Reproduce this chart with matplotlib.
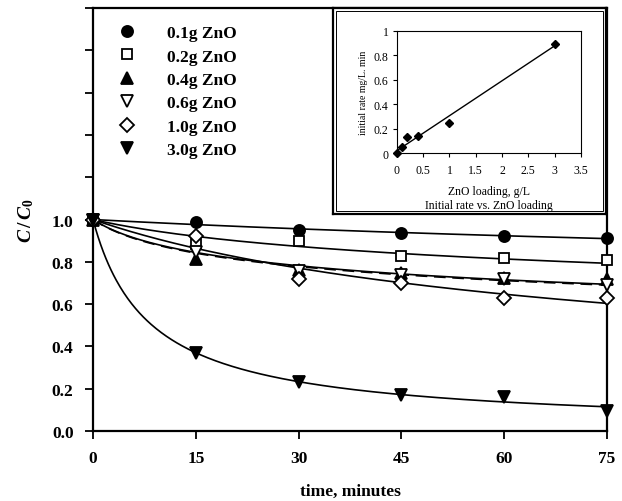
import matplotlib
matplotlib.use("Agg")
import matplotlib.pyplot as plt
import numpy as np
from matplotlib.lines import Line2D
from matplotlib.patches import Rectangle

plt.rcParams['font.family'] = ['Liberation Serif', 'DejaVu Serif']
plt.rcParams['mathtext.fontset'] = 'custom'
plt.rcParams['mathtext.it'] = 'Liberation Serif:italic:bold'
plt.rcParams['mathtext.rm'] = 'Liberation Serif:bold'

# main chart data: C/C0 vs time for each ZnO loading
time = [0, 15, 30, 45, 60, 75]
c_01 = [1.0, 0.986, 0.949, 0.938, 0.921, 0.913]
c_02 = [1.0, 0.885, 0.897, 0.828, 0.818, 0.807]
c_04 = [1.0, 0.815, 0.763, 0.749, 0.725, 0.717]
c_06 = [1.0, 0.848, 0.758, 0.740, 0.720, 0.692]
c_10 = [1.0, 0.923, 0.720, 0.700, 0.629, 0.629]
c_30 = [1.0, 0.370, 0.232, 0.172, 0.160, 0.096]
labels = ['0.1g ZnO', '0.2g ZnO', '0.4g ZnO', '0.6g ZnO', '1.0g ZnO', '3.0g ZnO']

# inset data: initial rate vs ZnO loading
loading = [0, 0.1, 0.2, 0.4, 1.0, 3.0]
init_rate = [0.0, 0.049, 0.135, 0.144, 0.25, 0.89]

series = [c_01, c_02, c_04, c_06, c_10, c_30]
markers = ['o', 's', '^', 'v', 'D', 'v']
filled = [True, False, True, False, False, True]
msizes = [8, 7.5, 8, 8, 7, 9]
lstyles = ['-', '-', '-', (0, (7, 4)), '-', '-']


def kinetic_fit(t, c):
    # n-th order decay C = (1 + a t)^-n, least squares on a grid
    a_grid = np.logspace(-4, 1, 300)[:, None]
    n_grid = np.logspace(np.log10(0.15), 1, 200)[None, :]
    sse = np.zeros((a_grid.size, n_grid.size))
    for ti, ci in zip(t, c):
        sse += ((1 + a_grid * ti) ** (-n_grid) - ci) ** 2
    i, j = np.unravel_index(np.argmin(sse), sse.shape)
    return a_grid[i, 0], n_grid[0, j]


fig = plt.figure(figsize=(6.22, 5.02), dpi=100)
ax = fig.add_axes([0.1495, 0.1394, 0.8265, 0.8426])

t = np.array(time, dtype=float)
tt = np.linspace(0, 75, 400)
for ys, m, f, ms, ls in zip(series, markers, filled, msizes, lstyles):
    c = np.array(ys)
    a, n = kinetic_fit(t, c)
    ax.plot(tt, (1 + a * tt) ** (-n), color='black', lw=1.2, ls=ls, zorder=2)
    ax.plot(t, c, ls='none', marker=m, ms=ms, mec='black', mew=1.3,
            mfc='black' if f else 'white', clip_on=False, zorder=3)

ax.set_xlim(0, 75)
ax.set_ylim(0, 2.0)
ax.set_xticks([0, 15, 30, 45, 60, 75])
yt = np.round(np.arange(0, 2.01, 0.2), 1)
ax.set_yticks(yt)
ax.set_yticklabels(['%.1f' % v if v <= 1.0 else '' for v in yt])
for sp in ax.spines.values():
    sp.set_linewidth(1.6)
ax.tick_params(direction='out', length=6, width=1.3, labelsize=12.5)
ax.tick_params(axis='x', pad=8)
ax.tick_params(axis='y', pad=8)
for lb in ax.get_xticklabels() + ax.get_yticklabels():
    lb.set_fontweight('bold')
ax.set_xlabel('time, minutes', fontsize=12.5, fontweight='bold', labelpad=12)
ax.set_ylabel(r'$C\,/\,C_0$', fontsize=14, labelpad=11)

handles = [Line2D([], [], ls='none', marker=m, ms=ms, mec='black', mew=1.3,
                  mfc='black' if f else 'white')
           for m, f, ms in zip(markers, filled, msizes)]
leg = ax.legend(handles, labels, loc='upper left', bbox_to_anchor=(0.05, 0.96),
                frameon=False, borderpad=0, borderaxespad=0, handlelength=1.0,
                handletextpad=1.8, labelspacing=0.42,
                prop={'family': 'Liberation Serif', 'weight': 'bold', 'size': 12.5})

# inset frame (double border)
frame = fig.add_axes([0.535, 0.572, 0.439, 0.41])
frame.set_xticks([])
frame.set_yticks([])
for sp in frame.spines.values():
    sp.set_linewidth(1.6)
frame.add_patch(Rectangle((0.012, 0.015), 0.976, 0.97, transform=frame.transAxes,
                          fill=False, lw=0.7, ec='black'))

ins = fig.add_axes([0.638, 0.6926, 0.296, 0.2444])
ins.plot(loading, init_rate, ls='none', marker='D', ms=4, color='black',
         clip_on=False, zorder=3)
k, b = np.polyfit(loading, init_rate, 1)
lx = np.array([0, 3.0])
ins.plot(lx, k * lx + b, color='black', lw=1.0)
ins.set_xlim(0, 3.5)
ins.set_ylim(0, 1)
ins.set_xticks(np.arange(0, 3.51, 0.5))
ins.set_yticks(np.arange(0, 1.01, 0.2))
ins.xaxis.set_major_formatter(plt.FuncFormatter(lambda v, p: '%g' % v))
ins.yaxis.set_major_formatter(plt.FuncFormatter(lambda v, p: '%g' % round(v, 1)))
ins.tick_params(direction='out', length=3, width=0.8, labelsize=8.5, pad=3)
ins.tick_params(axis='x', pad=5)
for sp in ins.spines.values():
    sp.set_linewidth(0.8)
ins.set_xlabel('ZnO loading, g/L', fontsize=8.5, labelpad=6)
ins.set_ylabel('initial rate mg/L. min', fontsize=7, labelpad=4)
ins.text(0.5, -0.42, 'Initial rate vs. ZnO loading', transform=ins.transAxes,
         ha='center', va='center', fontsize=8.5)

fig.savefig('out.png', dpi=100)
